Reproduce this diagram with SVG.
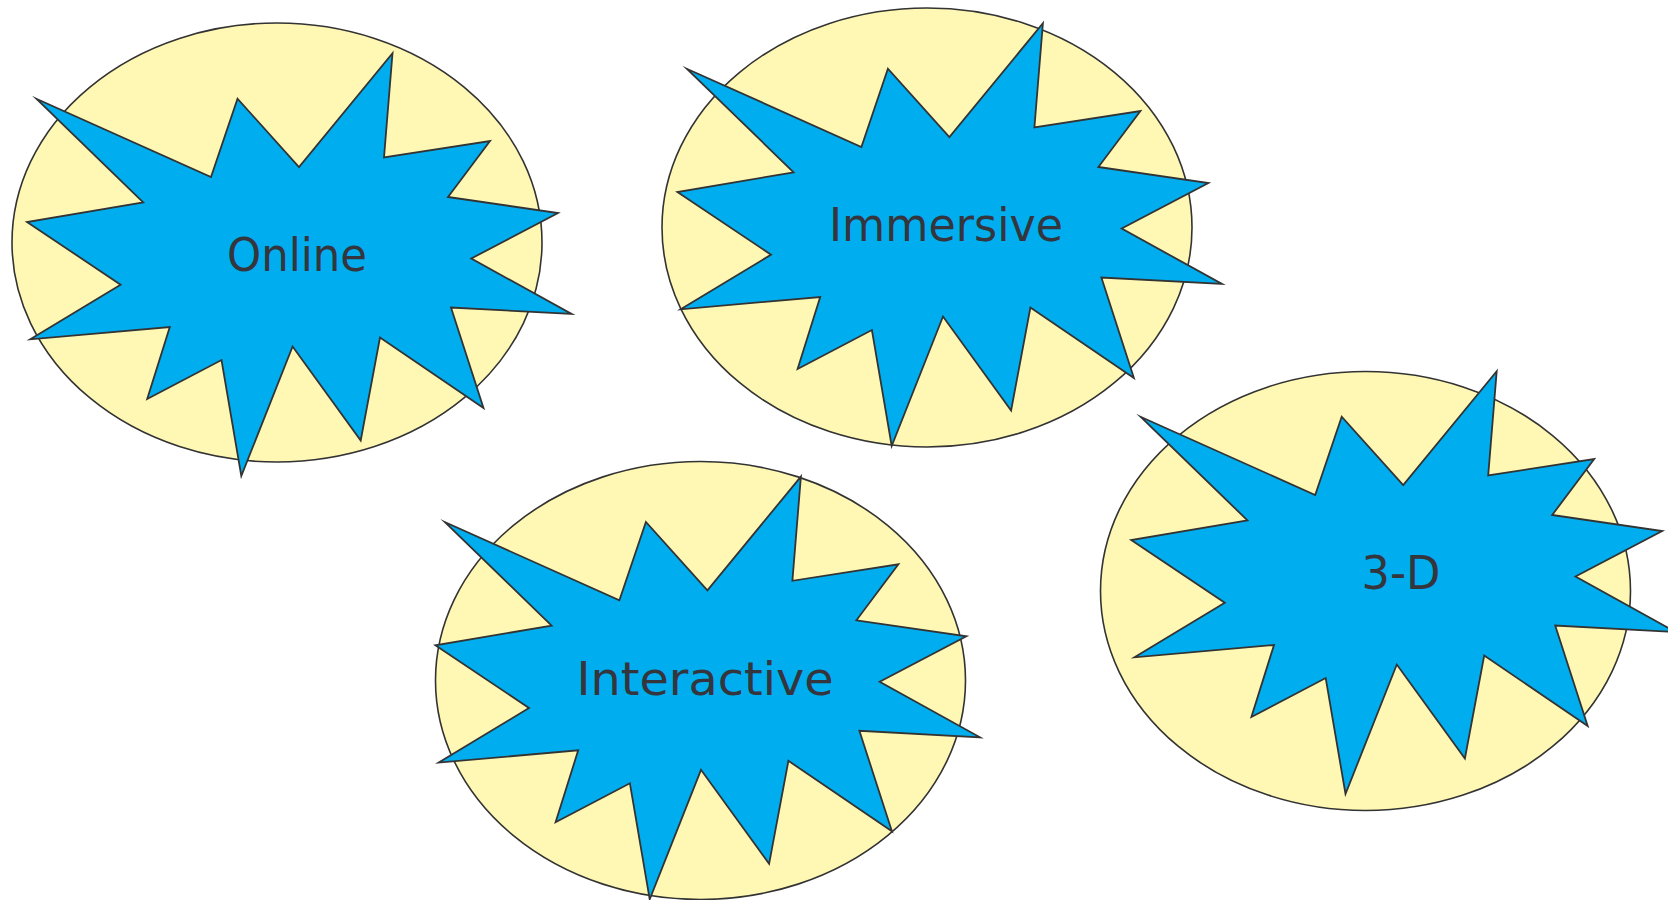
<svg xmlns="http://www.w3.org/2000/svg" xmlns:xlink="http://www.w3.org/1999/xlink" width="1668" height="900" viewBox="0 0 1668 900">
<style>
.bg{fill:#fff8b4;stroke:#333333;stroke-width:1.6}
.star{fill:#00aeef;stroke:#333333;stroke-width:1.8;stroke-linejoin:miter;stroke-miterlimit:20}
.lbl{font-family:"Comic Sans MS","DejaVu Sans",sans-serif;font-size:46px;fill:#35353d;text-anchor:middle}
</style>
<defs>
<polygon id="burst" points="36.3,98.7 211,177 237.5,98.7 299,167 392.5,53.3 384,157.5 490,141 448,197 558,213 471.3,258.5 571.6,314 451,307.5 483.5,408 380,337.5 360.7,440.5 292.6,346.5 241.3,476 221.5,360 147.2,399 169.8,327 30.3,339.3 120.6,284.7 27,222 143.2,202.3"/>
</defs>
<rect width="1668" height="900" fill="#ffffff"/>
<g id="connectors"></g>
<g id="node-online">
<ellipse class="bg" cx="277" cy="242.5" rx="265" ry="219.5"/>
<use xlink:href="#burst" href="#burst" class="star"/>
<text class="lbl" x="297" y="271" textLength="140" lengthAdjust="spacingAndGlyphs">Online</text>
</g>
<g id="node-immersive">
<ellipse class="bg" cx="927" cy="227.5" rx="265" ry="219.5"/>
<use xlink:href="#burst" href="#burst" class="star" transform="translate(650.4,-30)"/>
<text class="lbl" x="946" y="241" textLength="234" lengthAdjust="spacingAndGlyphs">Immersive</text>
</g>
<g id="node-interactive">
<ellipse class="bg" cx="700.5" cy="680.5" rx="265" ry="219"/>
<use xlink:href="#burst" href="#burst" class="star" transform="translate(408.4,423.3)"/>
<text class="lbl" x="705" y="694.5" textLength="257" lengthAdjust="spacingAndGlyphs">Interactive</text>
</g>
<g id="node-3d">
<ellipse class="bg" cx="1365.5" cy="591" rx="265" ry="219.5"/>
<use xlink:href="#burst" href="#burst" class="star" transform="translate(1104.2,318)"/>
<text class="lbl" x="1401" y="589" textLength="79" lengthAdjust="spacingAndGlyphs">3-D</text>
</g>
</svg>
